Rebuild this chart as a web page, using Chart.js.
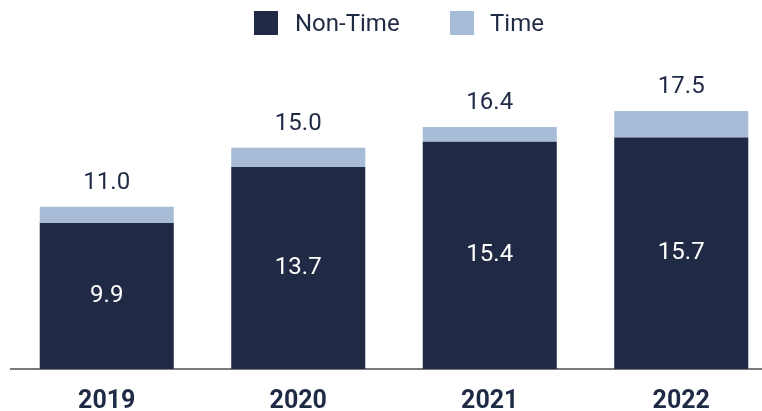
<!DOCTYPE html>
<html>
<head>
<meta charset="utf-8">
<script src="https://cdn.jsdelivr.net/npm/chart.js@4/dist/chart.umd.min.js"></script>
<style>
  html, body { margin: 0; padding: 0; background: #ffffff; overflow: hidden; }
  #wrap { position: relative; width: 762px; height: 411px; overflow: hidden; }
  #chart { position: absolute; left: 0; top: 0; }
  .lg-box { position: absolute; width: 24px; height: 24px; top: 11px; }
  .lg-txt { position: absolute; top: 8px; font-family: Roboto, sans-serif; font-size: 24px; line-height: 30px; color: #1f2a44; white-space: nowrap; }
</style>
</head>
<body>
<div id="wrap">
  <canvas id="chart" width="778" height="411"></canvas>
  <div id="legend"></div>
</div>
<script>
const categories = ["2019", "2020", "2021", "2022"];
const nonTime = [9.9, 13.7, 15.4, 15.7];
const time = [1.1, 1.3, 1.0, 1.8];
const totals = [11.0, 15.0, 16.4, 17.5];
const seriesNames = ["Non-Time", "Time"];

const DARK = "#212a45";
const LIGHT = "#a7bcd7";
const TEXT = "#1f2a44";

// HTML legend built from series names/colours
const legendPos = [{box: 254, txt: 295}, {box: 450, txt: 490}];
const legendColors = [DARK, LIGHT];
const lg = document.getElementById('legend');
seriesNames.forEach((name, i) => {
  const b = document.createElement('div');
  b.className = 'lg-box';
  b.style.left = legendPos[i].box + 'px';
  b.style.background = legendColors[i];
  const t = document.createElement('div');
  t.className = 'lg-txt';
  t.style.left = legendPos[i].txt + 'px';
  t.textContent = name;
  lg.appendChild(b); lg.appendChild(t);
});

const labelPlugin = {
  id: 'valueLabels',
  afterDatasetsDraw(chart) {
    const ctx = chart.ctx;
    ctx.save();
    ctx.textAlign = 'center';
    ctx.textBaseline = 'middle';
    ctx.font = '24px Roboto, sans-serif';
    const m0 = chart.getDatasetMeta(0);
    const m1 = chart.getDatasetMeta(1);
    m0.data.forEach((bar, i) => {
      ctx.fillStyle = '#ffffff';
      const cy = (bar.y + bar.base) / 2;
      ctx.fillText(nonTime[i].toFixed(1), bar.x, cy);
    });
    m1.data.forEach((bar, i) => {
      ctx.fillStyle = TEXT;
      ctx.fillText(totals[i].toFixed(1), bar.x, bar.y - 24);
    });
    ctx.restore();
  }
};

new Chart(document.getElementById('chart'), {
  type: 'bar',
  data: {
    labels: categories,
    datasets: [
      { label: seriesNames[0], data: nonTime, backgroundColor: DARK, borderWidth: 0 },
      { label: seriesNames[1], data: time, backgroundColor: LIGHT, borderWidth: 0 }
    ]
  },
  options: {
    responsive: false,
    animation: false,
    events: [],
    layout: { padding: { top: 74, left: 11, right: 1, bottom: 0 } },
    datasets: { bar: { categoryPercentage: 1.0, barPercentage: 0.70 } },
    plugins: { legend: { display: false }, tooltip: { enabled: false } },
    scales: {
      x: {
        stacked: true,
        grid: { display: false, drawTicks: false },
        border: { display: true, color: '#7a7a7a', width: 2 },
        ticks: { color: TEXT, font: { family: 'Roboto, sans-serif', size: 25, weight: 'bold' }, padding: 18 },
        afterFit(scale) { scale.height = 42; }
      },
      y: {
        stacked: true,
        display: false,
        min: 0,
        max: 20
      }
    }
  },
  plugins: [labelPlugin]
});
</script>
</body>
</html>
